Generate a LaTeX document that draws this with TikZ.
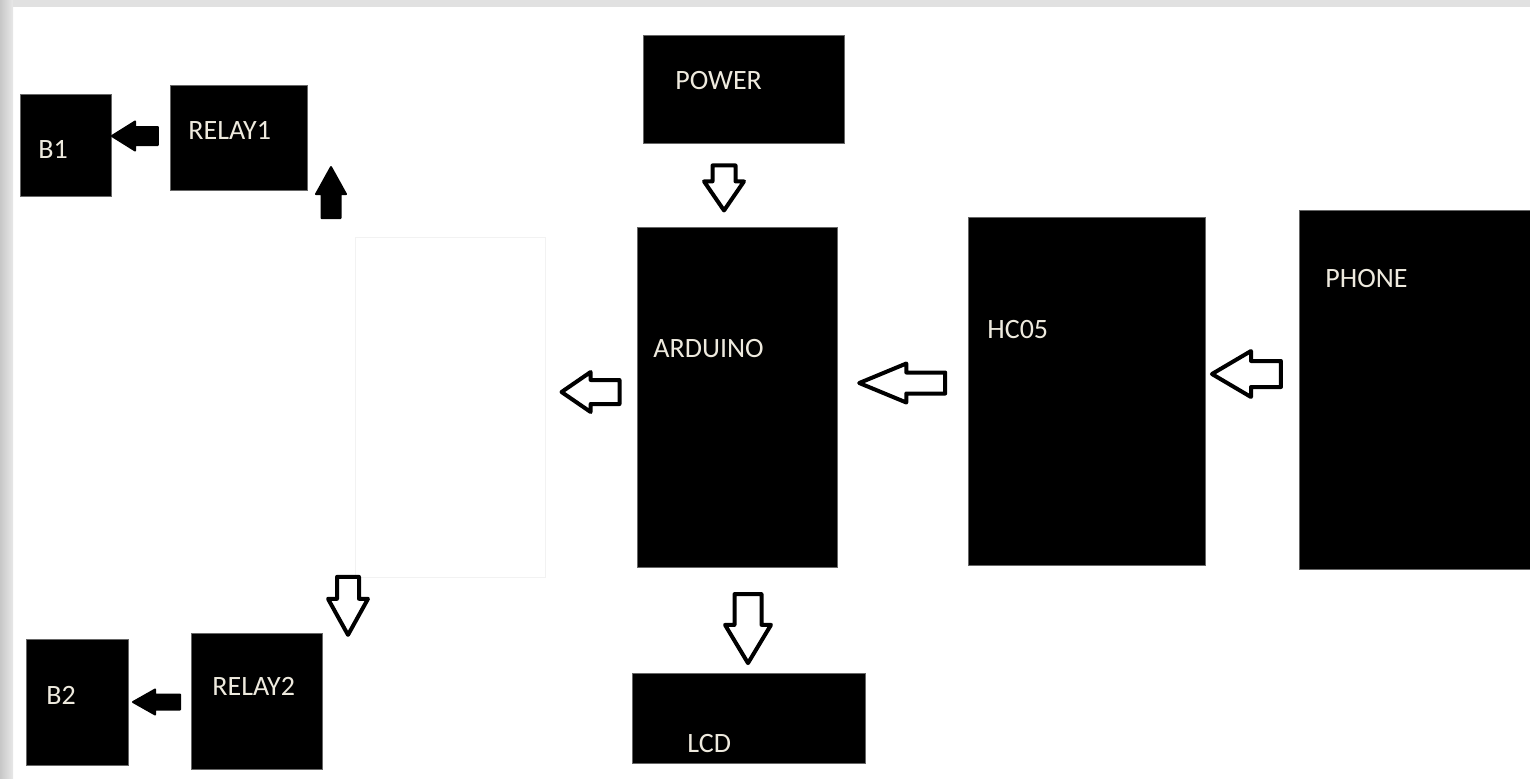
\documentclass[tikz,border=0pt]{standalone}
\usepackage{fontspec}
\setmainfont{Carlito}
\usetikzlibrary{shapes.arrows}
\definecolor{txt}{RGB}{238,234,222}
\definecolor{frame}{RGB}{225,225,225}
\tikzset{
  box/.style={fill=black, draw=black!60, line width=0.4pt, inner sep=0pt},
  lbl/.style={anchor=base west, inner sep=0pt, text=txt, font=\fontsize{14}{16}\selectfont},
  hollow/.style={single arrow, draw=black, fill=white, line width=2pt, line join=round, anchor=tip},
  solid/.style={single arrow, draw=black, fill=black, line width=1pt, line join=round, anchor=tip}
}
\begin{document}
\begin{tikzpicture}[x=0.5pt,y=-0.5pt]
\useasboundingbox (0,0) rectangle (1530,778);
\fill[white] (0,0) rectangle (1530,778);
\shade[left color=black!22, right color=black!9] (0,0) rectangle (13,778);
\fill[frame] (13,0) rectangle (1530,7);
% boxes
\node[box, minimum width=45.5pt, minimum height=51pt] (b1) at (65.5,145) {};
\node[box, minimum width=68.5pt, minimum height=52.5pt] (relay1) at (238.5,137.5) {};
\node[box, minimum width=100.5pt, minimum height=54pt] (power) at (743.5,89) {};
\node[box, minimum width=100pt, minimum height=170pt] (arduino) at (737,397) {};
\node[box, minimum width=118.5pt, minimum height=174pt] (hc05) at (1086.5,391) {};
\node[box, minimum width=115.5pt, minimum height=179.5pt] (phone) at (1414.5,389.5) {};
\node[box, minimum width=116.5pt, minimum height=45pt] (lcd) at (748.5,718) {};
\node[box, minimum width=65.5pt, minimum height=68pt] (relay2) at (256.5,701) {};
\node[box, minimum width=51pt, minimum height=63pt] (b2) at (77,702) {};
\node[draw=black!5, line width=0.4pt, fill=white, inner sep=0pt, minimum width=95pt, minimum height=170pt] (mid) at (450,407) {};
% labels
\node[lbl] (tb1) at (38,158) {B1};
\node[lbl] (trelay1) at (188,139) {RELAY1};
\node[lbl] (tpower) at (675,89) {POWER};
\node[lbl] (tarduino) at (653,357) {ARDUINO};
\node[lbl] (thc05) at (987,338) {HC05};
\node[lbl] (tphone) at (1325,287) {PHONE};
\node[lbl] (tlcd) at (687,752) {LCD};
\node[lbl] (trelay2) at (212,695) {RELAY2};
\node[lbl] (tb2) at (46,704) {B2};
% block arrows
\node[solid, inner sep=4pt, minimum height=23pt, minimum width=13.5pt, single arrow head extend=2.75pt, single arrow tip angle=64, shape border rotate=180] (a1) at (110,136) {};
\node[solid, inner sep=4.25pt, minimum height=25.5pt, minimum width=14pt, single arrow head extend=2.75pt, single arrow tip angle=58, shape border rotate=90] (a2) at (331,165) {};
\node[hollow, inner sep=4.75pt, minimum height=22.5pt, minimum width=18pt, single arrow head extend=4.25pt, single arrow tip angle=69, shape border rotate=270] (a3) at (724,214) {};
\node[hollow, inner sep=5pt, minimum height=29pt, minimum width=18pt, single arrow head extend=4pt, single arrow tip angle=69, shape border rotate=180] (a4) at (558,392) {};
\node[hollow, inner sep=4.25pt, minimum height=43pt, minimum width=17.5pt, single arrow head extend=4.5pt, single arrow tip angle=45, shape border rotate=180] (a5) at (854,383) {};
\node[hollow, inner sep=5.5pt, minimum height=34.5pt, minimum width=21pt, single arrow head extend=5pt, single arrow tip angle=61, shape border rotate=180] (a6) at (1208,374) {};
\node[hollow, inner sep=4.5pt, minimum height=29pt, minimum width=18pt, single arrow head extend=4.5pt, single arrow tip angle=58, shape border rotate=270] (a7) at (348,639) {};
\node[solid, inner sep=3.25pt, minimum height=23.5pt, minimum width=11.5pt, single arrow head extend=2.5pt, single arrow tip angle=59, shape border rotate=180] (a8) at (131,702) {};
\node[hollow, inner sep=5.75pt, minimum height=34.5pt, minimum width=21pt, single arrow head extend=4.75pt, single arrow tip angle=62, shape border rotate=270] (a9) at (748,667) {};
\end{tikzpicture}
\end{document}
